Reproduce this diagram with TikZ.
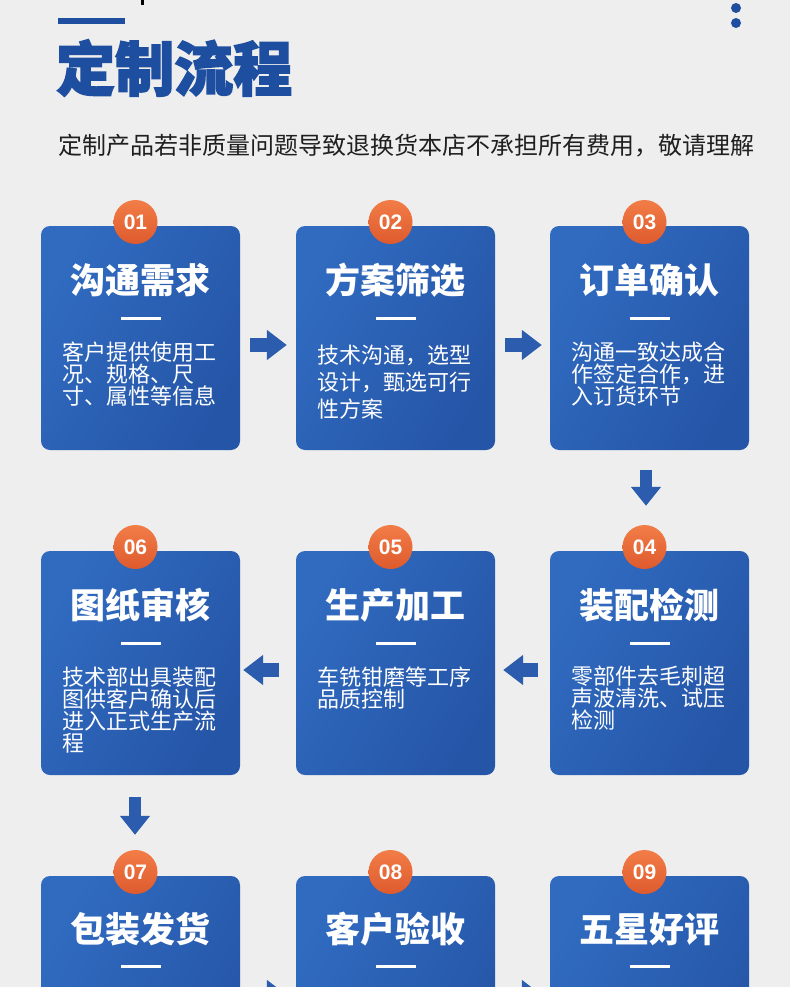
\documentclass[tikz,border=0pt]{standalone}
\usepackage{fontspec}
\usetikzlibrary{arrows.meta}
\newfontfamily\cjk{Noto Sans CJK SC}
\newfontfamily\cjkheavy[BoldFeatures={FakeBold=2.5}]{Noto Sans CJK SC}
\newfontfamily\numfont{Liberation Sans}
\definecolor{bgc}{HTML}{EEEEEE}
\definecolor{titleblue}{HTML}{1D4E9F}
\definecolor{cardL}{HTML}{306BC0}
\definecolor{cardR}{HTML}{2555A7}
\definecolor{arrowblue}{HTML}{2B5CAD}
\definecolor{orT}{HTML}{F27D47}
\definecolor{orB}{HTML}{DE5A2D}
\begin{document}
\begin{tikzpicture}[x=1pt,y=-1pt,
  card/.style={rectangle, rounded corners=9pt, minimum width=199pt, minimum height=224pt, inner sep=0pt, left color=cardL, right color=cardR, shading angle=60},
  ttl/.style={text=white, font=\cjk\bfseries\fontsize{35}{35}\selectfont, inner sep=0pt},
  desc/.style={text=white, font=\cjk\fontsize{22}{22}\selectfont, align=left, inner sep=0pt, anchor=north west},
  descwide/.style={desc, font=\cjk\fontsize{22}{27}\selectfont},
  wbar/.style={fill=white, minimum width=40pt, minimum height=3pt, inner sep=0pt},
  badge/.style={circle, minimum size=44pt, inner sep=0pt, top color=orT, bottom color=orB, text=white, font=\numfont\bfseries\fontsize{21}{21}\selectfont},
  flow/.style={draw=arrowblue, line width=14pt, -{Triangle[width=29pt,length=20pt]}},
  flowv/.style={draw=arrowblue, line width=12pt, -{Triangle[width=29pt,length=19pt]}}
]
\clip (0,0) rectangle (790,987);
\fill[bgc] (0,0) rectangle (790,987);

% header
\fill[black] (141,0) rectangle (144,5);
\node[fill=titleblue, minimum width=67pt, minimum height=6pt, inner sep=0pt, anchor=north west] (tbar) at (58,18) {};
\fill[titleblue] (736,8) circle (5pt);
\fill[titleblue] (736,23) circle (5pt);
\node[anchor=west, inner sep=0pt, text=titleblue, font=\cjkheavy\bfseries\fontsize{59}{59}\selectfont] (title) at (56,68) {定制流程};
\node[anchor=west, inner sep=0pt, text=black!88, font=\cjk\fontsize{24}{24}\selectfont] (sub) at (58,146) {定制产品若非质量问题导致退换货本店不承担所有费用，敬请理解};

% cards row 1
\node[card] (c1) at (140.5,338) {};
\node[card] (c2) at (395.5,338) {};
\node[card] (c3) at (649.5,338) {};
% row 2
\node[card] (c6) at (140.5,663) {};
\node[card] (c5) at (395.5,663) {};
\node[card] (c4) at (649.5,663) {};
% row 3
\node[card] (c7) at (140.5,988) {};
\node[card] (c8) at (395.5,988) {};
\node[card] (c9) at (649.5,988) {};

% badges
\node[badge] (b1) at (135.5,222) {01};
\node[badge] (b2) at (390.5,222) {02};
\node[badge] (b3) at (644.5,222) {03};
\node[badge] (b6) at (135.5,547) {06};
\node[badge] (b5) at (390.5,547) {05};
\node[badge] (b4) at (644.5,547) {04};
\node[badge] (b7) at (135.5,872) {07};
\node[badge] (b8) at (390.5,872) {08};
\node[badge] (b9) at (644.5,872) {09};

% titles
\node[ttl] (t1) at (140.5,280) {沟通需求};
\node[ttl] (t2) at (395.5,280) {方案筛选};
\node[ttl] (t3) at (649.5,280) {订单确认};
\node[ttl] (t6) at (140.5,605) {图纸审核};
\node[ttl] (t5) at (395.5,605) {生产加工};
\node[ttl] (t4) at (649.5,605) {装配检测};
\node[ttl] (t7) at (140.5,929) {包装发货};
\node[ttl] (t8) at (395.5,929) {客户验收};
\node[ttl] (t9) at (649.5,929) {五星好评};

% white bars
\node[wbar] (w1) at (140.5,318) {};
\node[wbar] (w2) at (395.5,318) {};
\node[wbar] (w3) at (649.5,318) {};
\node[wbar] (w6) at (140.5,643) {};
\node[wbar] (w5) at (395.5,643) {};
\node[wbar] (w4) at (649.5,643) {};
\node[wbar] (w7) at (140.5,966) {};
\node[wbar] (w8) at (395.5,966) {};
\node[wbar] (w9) at (649.5,966) {};

% descriptions
\node[desc] (d1) at (62,342) {客户提供使用工\\况、规格、尺\\寸、属性等信息};
\node[descwide] (d2) at (317,345) {技术沟通，选型\\设计，甄选可行\\性方案};
\node[desc] (d3) at (571,342) {沟通一致达成合\\作签定合作，进\\入订货环节};
\node[desc] (d4) at (571,666) {零部件去毛刺超\\声波清洗、试压\\检测};
\node[desc] (d5) at (317,667) {车铣钳磨等工序\\品质控制};
\node[desc] (d6) at (62,667) {技术部出具装配\\图供客户确认后\\进入正式生产流\\程};

% connectors
\draw[flow, shorten <=10pt, shorten >=9pt] ([yshift=-7pt]c1.east) -- ([yshift=-7pt]c2.west);
\draw[flow, shorten <=10pt, shorten >=8pt] ([yshift=-7pt]c2.east) -- ([yshift=-7pt]c3.west);
\draw[flowv, shorten <=20pt, shorten >=45pt] ([xshift=-3.5pt]c3.south) -- ([xshift=-3.5pt]c4.north);
\draw[flow, shorten <=12pt, shorten >=8pt] ([yshift=-7pt]c4.west) -- ([yshift=-7pt]c5.east);
\draw[flow, shorten <=17pt, shorten >=3pt] ([yshift=-7pt]c5.west) -- ([yshift=-7pt]c6.east);
\draw[flowv, shorten <=22pt, shorten >=41pt] ([xshift=-5.5pt]c6.south) -- ([xshift=-5.5pt]c7.north);
\draw[flow, shorten <=10pt, shorten >=9pt] ([yshift=-7pt]c7.east) -- ([yshift=-7pt]c8.west);
\draw[flow, shorten <=10pt, shorten >=8pt] ([yshift=-7pt]c8.east) -- ([yshift=-7pt]c9.west);
\end{tikzpicture}
\end{document}
